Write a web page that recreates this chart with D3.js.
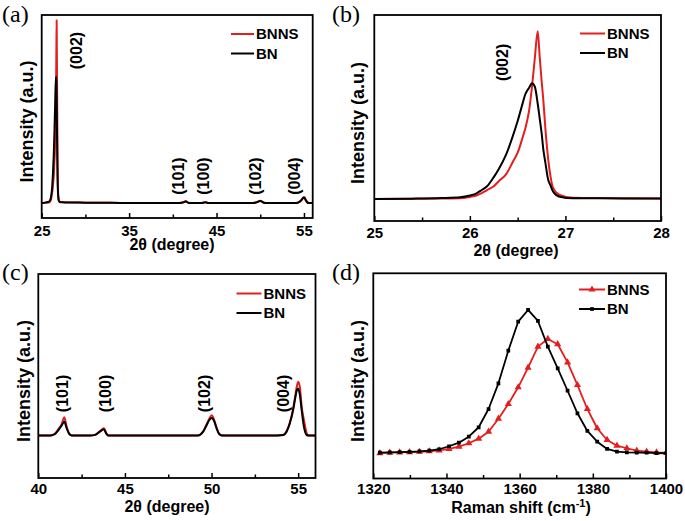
<!DOCTYPE html>
<html>
<head>
<meta charset="utf-8">
<script src="https://cdn.jsdelivr.net/npm/d3@7"></script>
<style>
  body { margin: 0; background: #fff; }
  text { font-family: "Liberation Sans", Arial, sans-serif; font-weight: bold; fill: #000; }
  .plabel { font-family: "Liberation Serif", "Times New Roman", serif; font-weight: normal; }
</style>
</head>
<body>
<div id="chart"></div>
<script>
// XRD data (2theta in degree, intensity in a.u., BN (002) peak = 100)
const xrdTheta = [25.00, 25.40, 25.70, 25.90, 26.00, 26.07, 26.12, 26.18, 26.25, 26.30,
  26.38, 26.45, 26.50, 26.55, 26.58, 26.62, 26.65, 26.68, 26.71, 26.73,
  26.75, 26.77, 26.79, 26.82, 26.84, 26.87, 26.94, 27.08, 27.30, 27.60,
  28.00, 30.00, 33.00, 36.00, 40.00, 40.70, 40.96, 41.15, 41.35, 41.50,
  41.64, 41.79, 41.93, 43.00, 43.27, 43.56, 43.79, 43.91, 44.04, 49.20,
  49.52, 49.72, 49.87, 50.01, 50.16, 50.29, 50.44, 50.60, 53.80, 54.14,
  54.33, 54.52, 54.71, 54.81, 54.90, 55.00, 55.10, 55.20, 55.33, 55.49,
  55.60, 56.00];
const xrdBN = [0.0, 0.3, 0.8, 1.5, 3.0, 4.9, 7.6, 11.0, 18.9, 25.5,
  38.5, 54.5, 67.4, 82.0, 90.5, 96.2, 100.0, 97.0, 82.3, 70.0,
  57.5, 42.0, 31.5, 16.4, 12.5, 6.5, 2.0, 0.6, 0.6, 0.5,
  0.5, 0.3, 0.15, 0.0, 0.0, 0.0, 0.13, 0.45, 0.90, 1.23,
  0.64, 0.13, 0.0, 0.0, 0.05, 0.34, 0.55, 0.20, 0.0, 0.0,
  0.34, 0.94, 1.38, 1.55, 1.23, 0.64, 0.13, 0.0, 0.0, 0.04,
  0.34, 1.09, 2.28, 3.17, 3.90, 4.20, 3.60, 2.28, 0.79, 0.04,
  0.0, 0.0];
const xrdBNNS = [0.0, 0.2, 0.4, 0.6, 1.8, 3.0, 4.9, 7.7, 11.0, 15.2,
  21.5, 32.2, 40.0, 52.7, 61.0, 76.5, 97.0, 122.0, 145.0, 123.5,
  103.0, 84.0, 61.0, 34.0, 21.5, 9.8, 3.6, 1.0, 0.8, 0.6,
  0.5, 0.3, 0.15, 0.0, 0.0, 0.0, 0.15, 0.55, 1.00, 1.63,
  0.75, 0.15, 0.0, 0.0, 0.05, 0.40, 0.65, 0.25, 0.0, 0.0,
  0.38, 1.00, 1.50, 1.80, 1.35, 0.70, 0.15, 0.0, 0.0, 0.04,
  0.38, 1.15, 2.40, 3.30, 4.20, 4.80, 4.30, 2.60, 1.40, 0.20,
  0.0, 0.0];

// Raman data (cm-1, intensity in a.u., BN peak = 100)
const ramanShift = [1321.8, 1324.5, 1327.2, 1329.9, 1332.6, 1335.3, 1338.0, 1340.7, 1343.4, 1346.1,
  1348.8, 1351.5, 1354.2, 1356.9, 1359.6, 1362.3, 1365.0, 1367.7, 1370.4, 1373.1,
  1375.8, 1378.5, 1381.2, 1383.9, 1386.6, 1389.3, 1392.0, 1394.7, 1397.4, 1400.1];
const ramanBN = [0.0, 0.2, 0.4, 0.6, 0.9, 1.4, 2.4, 4.5, 7.0, 11.2,
  17.8, 30.6, 48.6, 71.5, 91.8, 100.0, 92.3, 74.3, 59.1, 43.4,
  27.6, 15.2, 7.7, 2.6, 0.7, 0.2, 0.0, 0.0, -0.3, -0.4];
const ramanBNNS = [-0.3, 0.0, 0.2, 0.4, 0.6, 1.0, 1.6, 2.7, 4.2, 6.6,
  9.8, 14.7, 23.8, 34.1, 45.8, 59.6, 74.3, 79.7, 76.0, 63.3,
  47.4, 30.6, 17.1, 8.9, 4.9, 3.1, 1.4, 0.7, 0.2, 0.0];

const seriesNames = ["BNNS", "BN"];
const seriesColors = ["#e41e1e", "#000000"];

const panels = [
  { tag: "(a)", box: [41.7, 15, 312.7, 218], xDom: [25, 56], yDom: [-11.9, 149.2],
    major: [25, 35, 45, 55], minor: [30, 40, 50], xTitle: "2θ (degree)", titleY: 250, titleX: 172,
    tagPos: [2, 21.5], legend: { x1: 231, x2: 254, y: 34, tx: 256 },
    peaks: [["(002)", 28.92, 121], ["(101)", 40.6, 21.4], ["(100)", 43.5, 21.4], ["(102)", 49.5, 21.4], ["(004)", 53.9, 21.4]],
    yTitleX: 27, raman: false, pad: 7 },
  { tag: "(b)", box: [374.3, 15, 661, 221], xDom: [25, 28], yDom: [-19, 159],
    major: [25, 26, 27, 28], minor: [25.5, 26.5, 27.5], xTitle: "2θ (degree)", titleY: 256, titleX: 516,
    tagPos: [332, 21.5], legend: { x1: 580, x2: 605, y: 33.5, tx: 607 },
    peaks: [["(002)", 26.34, 118]],
    yTitleX: 357.5, raman: false, pad: 6 },
  { tag: "(c)", box: [38.3, 274, 315.5, 478], xDom: [40, 56], yDom: [-3.8, 14.42],
    major: [40, 45, 50, 55], minor: [42.5, 47.5, 52.5], xTitle: "2θ (degree)", titleY: 511.5, titleX: 167,
    tagPos: [2, 280], legend: { x1: 236.5, x2: 261.5, y: 293.5, tx: 263.5 },
    peaks: [["(101)", 41.40, 3.75], ["(100)", 43.89, 3.75], ["(102)", 49.56, 3.75], ["(004)", 54.17, 3.75]],
    yTitleX: 24, raman: false, pad: 5.5 },
  { tag: "(d)", box: [373.3, 273.3, 666, 478.5], xDom: [1320, 1400], yDom: [-18.1, 125.7],
    major: [1320, 1340, 1360, 1380, 1400], minor: [1330, 1350, 1370, 1390], xTitle: "Raman shift (cm", titleY: 513, titleX: 521,
    tagPos: [332, 280], legend: { x1: 579, x2: 605, y: 289.5, tx: 607 },
    peaks: [],
    yTitleX: 357.5, raman: true, pad: 5 }
];

const svg = d3.select("#chart").append("svg")
  .attr("width", 685).attr("height", 521)
  .style("background", "#fff");

panels.forEach((p, i) => {
  const [L, T, R, B] = p.box;
  const x = d3.scaleLinear().domain(p.xDom).range([L, R]);
  const y = d3.scaleLinear().domain(p.yDom).range([B, T]);
  const g = svg.append("g");

  // clip for the curves
  g.append("clipPath").attr("id", "clip" + i)
    .append("rect").attr("x", L).attr("y", T).attr("width", R - L).attr("height", B - T);

  const xs = p.raman ? ramanShift : xrdTheta;
  const sets = p.raman ? [ramanBNNS, ramanBN] : [xrdBNNS, xrdBN];
  const line = d3.line().x((d, k) => x(xs[k])).y(d => y(d))
    .curve(p.raman ? d3.curveLinear : d3.curveMonotoneX);
  const curves = g.append("g").attr("clip-path", `url(#clip${i})`);

  sets.forEach((vals, s) => {
    curves.append("path")
      .attr("d", line(vals))
      .attr("fill", "none")
      .attr("stroke", seriesColors[s])
      .attr("stroke-width", p.raman ? 1.8 : 2)
      .attr("stroke-linejoin", "round");
    if (p.raman) {
      const pts = curves.selectAll(null).data(vals).join("path")
        .attr("transform", (d, k) => `translate(${x(xs[k])},${y(d)})`)
        .attr("fill", seriesColors[s]);
      if (s === 0) pts.attr("d", d3.symbol(d3.symbolTriangle, 22)());
      else pts.attr("d", d3.symbol(d3.symbolSquare, 14)());
    }
  });

  // axes (ticks inside, bottom only)
  g.append("g").attr("transform", `translate(0,${B})`)
    .call(d3.axisBottom(x).tickValues(p.major).tickSize(-5).tickPadding(p.pad).tickFormat(d3.format("d")))
    .call(a => a.select(".domain").remove())
    .call(a => a.selectAll("line").attr("stroke-width", 1.5))
    .call(a => a.selectAll("text").attr("font-size", 15).attr("font-family", null));
  g.append("g").attr("transform", `translate(0,${B})`)
    .call(d3.axisBottom(x).tickValues(p.minor).tickSize(-3.5).tickFormat(""))
    .call(a => a.select(".domain").remove())
    .call(a => a.selectAll("line").attr("stroke-width", 1.5));

  // frame
  g.append("rect").attr("x", L).attr("y", T).attr("width", R - L).attr("height", B - T)
    .attr("fill", "none").attr("stroke", "#000").attr("stroke-width", 1.8);

  // titles
  const xt = g.append("text").attr("x", p.titleX).attr("y", p.titleY)
    .attr("text-anchor", "middle").attr("font-size", 16).text(p.xTitle);
  if (p.raman) {
    xt.append("tspan").attr("dy", -6).attr("font-size", 11).text("-1");
    xt.append("tspan").attr("dy", 6).text(")");
  }
  g.append("text")
    .attr("transform", `translate(${p.yTitleX},${(T + B) / 2 + 5}) rotate(-90)`)
    .attr("text-anchor", "middle").attr("dy", "0.35em").attr("font-size", 18)
    .text("Intensity (a.u.)");

  // panel tag
  g.append("text").attr("class", "plabel").attr("x", p.tagPos[0]).attr("y", p.tagPos[1])
    .attr("font-size", 24).text(p.tag);

  // peak labels
  p.peaks.forEach(([lab, px, py]) => {
    g.append("text")
      .attr("transform", `translate(${x(px)},${y(py)}) rotate(-90)`)
      .attr("text-anchor", "middle").attr("dy", "0.35em").attr("font-size", 16)
      .text(lab);
  });

  // legend
  const lg = p.legend;
  seriesNames.forEach((name, s) => {
    const ly = lg.y + s * 19.5;
    g.append("line").attr("x1", lg.x1).attr("x2", lg.x2).attr("y1", ly).attr("y2", ly)
      .attr("stroke", seriesColors[s]).attr("stroke-width", 2);
    if (p.raman) {
      g.append("path").attr("transform", `translate(${(lg.x1 + lg.x2) / 2},${ly})`)
        .attr("fill", seriesColors[s])
        .attr("d", s === 0 ? d3.symbol(d3.symbolTriangle, 22)() : d3.symbol(d3.symbolSquare, 14)());
    }
    g.append("text").attr("x", lg.tx).attr("y", ly + 5.3).attr("font-size", 15).text(name);
  });
});
</script>
</body>
</html>
